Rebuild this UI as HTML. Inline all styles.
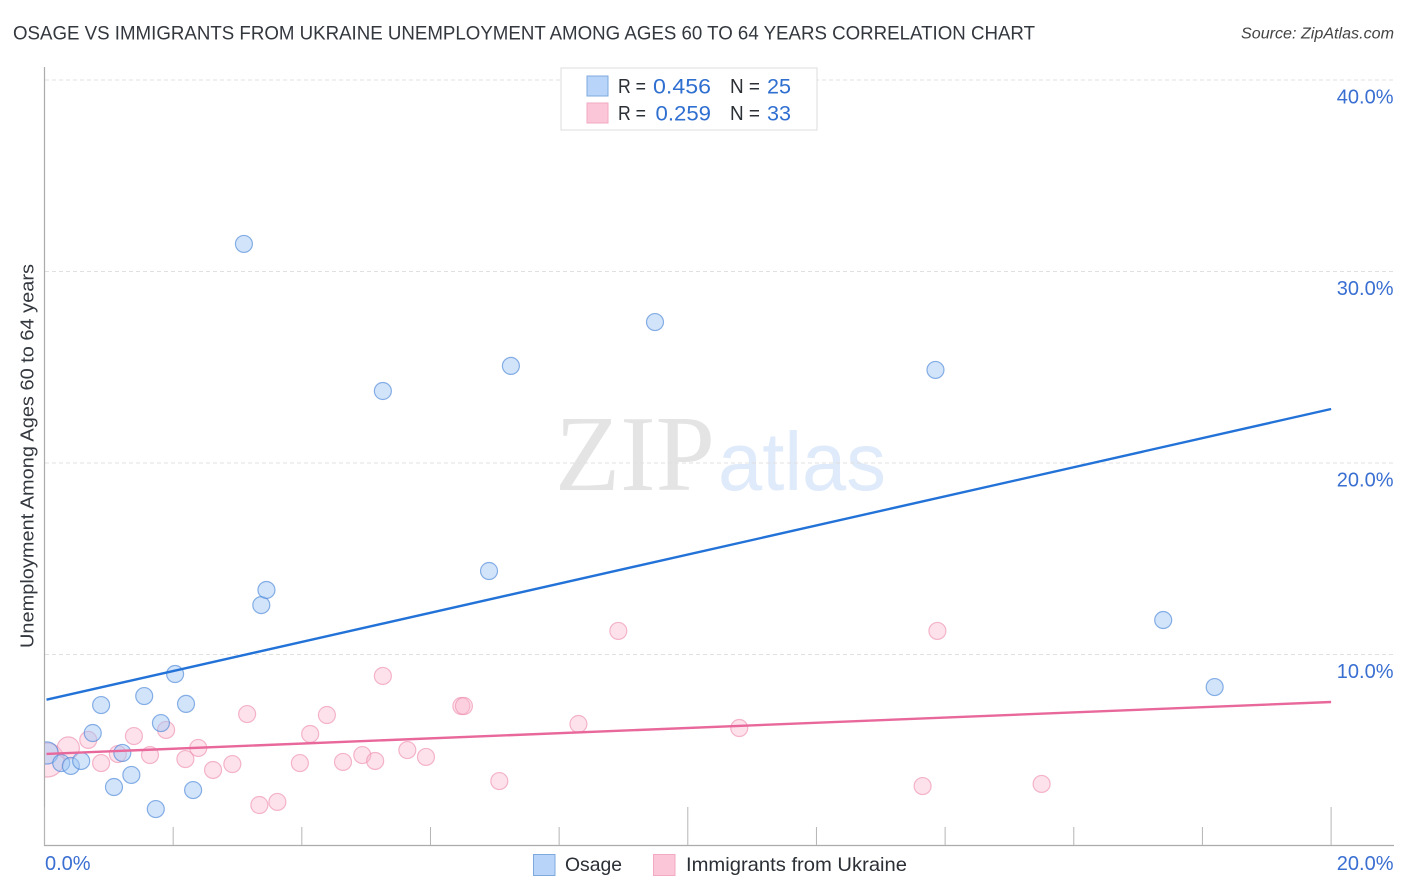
<!DOCTYPE html>
<html><head><meta charset="utf-8"><title>Osage vs Immigrants from Ukraine Unemployment Correlation Chart</title>
<style>
html,body{margin:0;padding:0;background:#fff;width:1406px;height:892px;overflow:hidden}
svg{display:block;font-family:"Liberation Sans",sans-serif}
</style></head><body>
<svg id="chart" width="1406" height="892" viewBox="0 0 1406 892" xmlns="http://www.w3.org/2000/svg">
<defs><clipPath id="plot-clip"><rect x="45" y="60" width="1350" height="785"/></clipPath></defs>
<text x="13" y="39.5" font-size="19.5" fill="#33373e" textLength="1022" lengthAdjust="spacingAndGlyphs">OSAGE VS IMMIGRANTS FROM UKRAINE UNEMPLOYMENT AMONG AGES 60 TO 64 YEARS CORRELATION CHART</text>
<text x="1241" y="38.5" font-size="15.5" font-style="italic" fill="#444" textLength="153" lengthAdjust="spacingAndGlyphs">Source: ZipAtlas.com</text>
<text x="555" y="490" font-family="'Liberation Serif',serif" font-size="108" fill="#e4e4e4" textLength="160" lengthAdjust="spacingAndGlyphs">ZIP</text>
<text x="718" y="490" font-size="83" fill="#dfeafa" textLength="168" lengthAdjust="spacingAndGlyphs">atlas</text>
<g id="grid"></g>
<g id="axes"></g>
<g id="marks" clip-path="url(#plot-clip)"></g>
<g id="trends"></g>
<text transform="translate(33.5,456) rotate(-90)" font-size="18.5" fill="#33373e" text-anchor="middle" textLength="384" lengthAdjust="spacingAndGlyphs">Unemployment Among Ages 60 to 64 years</text>
<g>
<rect x="561" y="68" width="256" height="62" fill="#fff" stroke="#dcdcdc" stroke-width="1"/>
<rect x="587" y="76" width="21" height="20" fill="#b8d4f8" stroke="#7fa9dd"/>
<rect x="587" y="103" width="21" height="20" fill="#fcc6d9" stroke="#f2a9c2"/>
<g font-size="20" fill="#2b2f36">
<text x="618" y="93" textLength="28" lengthAdjust="spacingAndGlyphs">R =</text>
<text x="730" y="93" textLength="30" lengthAdjust="spacingAndGlyphs">N =</text>
<text x="618" y="120" textLength="28" lengthAdjust="spacingAndGlyphs">R =</text>
<text x="730" y="120" textLength="30" lengthAdjust="spacingAndGlyphs">N =</text>
</g>
<g font-size="21" fill="#2f6fd0">
<text x="653" y="93.5" textLength="58" lengthAdjust="spacingAndGlyphs">0.456</text>
<text x="767" y="93.5" textLength="24" lengthAdjust="spacingAndGlyphs">25</text>
<text x="655.5" y="120.5" textLength="55.5" lengthAdjust="spacingAndGlyphs">0.259</text>
<text x="767" y="120.5" textLength="24" lengthAdjust="spacingAndGlyphs">33</text>
</g>
</g>
<g>
<rect x="533.5" y="854.5" width="21.5" height="21" fill="#b8d4f8" stroke="#7fa9dd"/>
<text x="565" y="871" font-size="19.5" fill="#2b2f36" textLength="57" lengthAdjust="spacingAndGlyphs">Osage</text>
<rect x="653.5" y="854.5" width="21.5" height="21" fill="#fcc6d9" stroke="#f2a9c2"/>
<text x="686" y="871" font-size="19.5" fill="#2b2f36" textLength="221" lengthAdjust="spacingAndGlyphs">Immigrants from Ukraine</text>
</g>
</svg>
<script>
const yTickValues = [10, 20, 30, 40];
const yTickLabels = ["10.0%", "20.0%", "30.0%", "40.0%"];
const xTickValues = [0, 2, 4, 6, 8, 10, 12, 14, 16, 18, 20];
const xMajorTicks = [0, 10, 20];
const xEdgeLabels = ["0.0%", "20.0%"];
const osageX = [0.04,0.26,0.41,0.57,0.75,0.88,1.08,1.21,1.35,1.55,1.73,1.81,2.03,2.20,2.31,3.10,3.37,3.45,5.26,6.91,7.25,9.49,13.85,17.39,18.19];
const osageY = [4.86,4.33,4.18,4.44,5.90,7.36,3.08,4.86,3.71,7.83,1.93,6.42,8.98,7.42,2.92,31.44,12.58,13.37,23.76,14.36,25.07,27.36,24.86,11.80,8.30];
const osageWeight = [1.7,1,1,1,1,1,1,1,1,1,1,1,1,1,1,1,1,1,1,1,1,1,1,1,1];
const ukraineX = [0.04,0.37,0.68,0.88,1.14,1.39,1.64,1.89,2.19,2.39,2.62,2.92,3.15,3.34,3.62,3.97,4.13,4.39,4.64,4.94,5.14,5.26,5.64,5.93,6.48,6.52,7.07,8.30,8.92,10.80,13.65,13.88,15.50];
const ukraineY = [4.49,5.12,5.54,4.33,4.80,5.74,4.75,6.06,4.54,5.12,3.97,4.28,6.89,2.14,2.30,4.33,5.85,6.84,4.39,4.75,4.44,8.88,5.01,4.65,7.31,7.31,3.39,6.37,11.23,6.16,3.13,11.23,3.24];
const ukraineWeight = [4,1.7,1,1,1,1,1,1,1,1,1,1,1,1,1,1,1,1,1,1,1,1,1,1,1,1,1,1,1,1,1,1,1];
const osageTrendX = [0, 20];
const osageTrendY = [7.62, 22.82];
const ukraineTrendX = [0, 20];
const ukraineTrendY = [4.81, 7.52];

const NS = "http://www.w3.org/2000/svg";
const xScale = v => 44.5 + v * 64.33;
const yScale = v => 846 - v * 19.15;
const radius = w => 8.5 * Math.sqrt(w);
function make(tag, attrs, parent, text) {
  const el = document.createElementNS(NS, tag);
  for (const k in attrs) el.setAttribute(k, attrs[k]);
  if (text !== undefined) el.textContent = text;
  parent.appendChild(el);
  return el;
}
const grid = document.getElementById("grid");
const axes = document.getElementById("axes");
const marks = document.getElementById("marks");
const trends = document.getElementById("trends");

yTickValues.forEach((v, i) => {
  const line = make("line", {x1: 45, x2: 1393, y1: yScale(v), y2: yScale(v), stroke: "#e0e0e0", "stroke-width": 1, "stroke-dasharray": "4 3"}, grid);
  
  
  const label = make("text", {x: 1393.5, y: yScale(v) + 23.3, "font-size": 20, fill: "#3a6fd2", "text-anchor": "end"}, axes, yTickLabels[i]);
  
  
});

const yAxis = make("line", {x1: 44.5, x2: 44.5, y1: 67, y2: 846, stroke: "#ababab", "stroke-width": 1.2}, axes);


const xAxis = make("line", {x1: 44, x2: 1394, y1: 845.5, y2: 845.5, stroke: "#ababab", "stroke-width": 1.2}, axes);



xTickValues.forEach(v => {
  const top = xMajorTicks.includes(v) ? 807 : 827;
  const tick = make("line", {x1: xScale(v), x2: xScale(v), y1: top, y2: 845, stroke: "#b5b5b5", "stroke-width": 1}, axes);
  
  
});

const xLabelLeft = make("text", {x: 45, y: 870, "font-size": 20, fill: "#3a6fd2"}, axes, xEdgeLabels[0]);


const xLabelRight = make("text", {x: 1393.5, y: 870, "font-size": 20, fill: "#3a6fd2", "text-anchor": "end"}, axes, xEdgeLabels[1]);



ukraineX.forEach((v, i) => {
  const c = make("circle", {cx: xScale(v), cy: yScale(ukraineY[i]), r: radius(ukraineWeight[i]), fill: "rgba(251,182,206,0.4)", stroke: "rgba(238,140,175,0.62)", "stroke-width": 1.2}, marks);
  
  
});
osageX.forEach((v, i) => {
  const c = make("circle", {cx: xScale(v), cy: yScale(osageY[i]), r: radius(osageWeight[i]), fill: "rgba(160,198,244,0.48)", stroke: "rgba(70,130,215,0.62)", "stroke-width": 1.2}, marks);
  
  
});

const osageTrend = make("line", {x1: xScale(osageTrendX[0]) + 2, y1: yScale(osageTrendY[0]) - 0.4, x2: xScale(osageTrendX[1]), y2: yScale(osageTrendY[1]), stroke: "#2272d8", "stroke-width": 2.4}, trends);


const ukraineTrend = make("line", {x1: xScale(ukraineTrendX[0]) + 2, y1: yScale(ukraineTrendY[0]), x2: xScale(ukraineTrendX[1]), y2: yScale(ukraineTrendY[1]), stroke: "#e9689b", "stroke-width": 2.4}, trends);


</script>
</body></html>
